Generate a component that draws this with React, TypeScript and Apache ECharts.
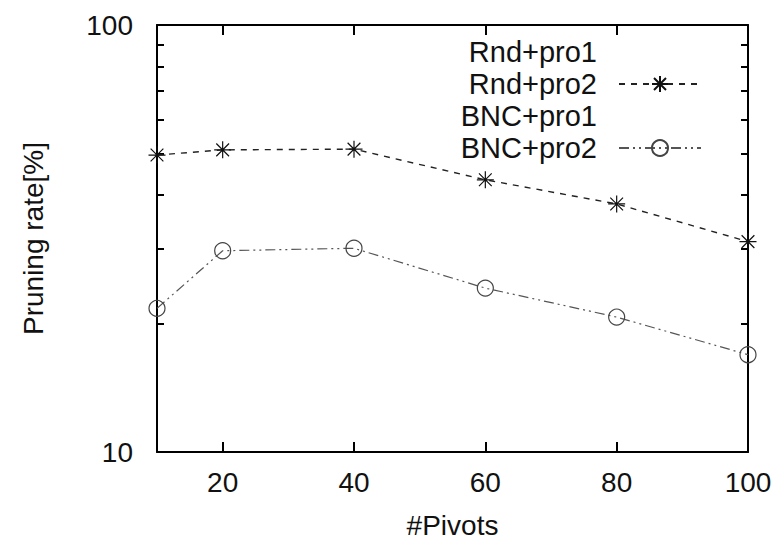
import React, { useEffect, useRef } from 'react';
import * as echarts from 'echarts';

const pivots = [10, 20, 40, 60, 80, 100];
const rndPro2 = [49.6, 51.0, 51.2, 43.4, 38.1, 31.1];
const bncPro2 = [21.7, 29.6, 30.0, 24.2, 20.7, 16.9];
const seriesNames = ['Rnd+pro1', 'Rnd+pro2', 'BNC+pro1', 'BNC+pro2'];
const hiddenInLegend = ['Rnd+pro1', 'BNC+pro1'];
const xTickLabels = [20, 40, 60, 80, 100];
const xTicks = [20, 40, 60, 80];
const yTickLabels = [10, 100];
const yMinorTicks = [20, 30, 40, 50, 60, 70, 80, 90];

const FONT = '"Liberation Sans", Arial, Helvetica, sans-serif';
const STAR = 'path://M0,-10L0,10M-10,0L10,0M-7.5,-7.5L7.5,7.5M-7.5,7.5L7.5,-7.5';

export default function App() {
  const ref = useRef<HTMLDivElement>(null);
  useEffect(() => {
    if (!ref.current) return;
    const chart = echarts.init(ref.current, null, { renderer: 'svg' });
    const axisLine = { show: true, onZero: false, lineStyle: { color: '#000', width: 2 } };
    const xBase = {
      type: 'value',
      min: 10,
      max: 100,
      axisLine,
      splitLine: { show: false },
    };
    const yBase = {
      type: 'log',
      logBase: 10,
      min: 10,
      max: 100,
      axisLine,
      splitLine: { show: false },
      minorTick: { show: false },
    };
    chart.setOption({
      animation: false,
      backgroundColor: '#fff',
      textStyle: { fontFamily: FONT },
      grid: { left: 157, right: 35, top: 25, bottom: 92, containLabel: false },
      legend: {
        data: seriesNames.map((n) =>
          hiddenInLegend.includes(n)
            ? { name: n, itemStyle: { opacity: 0 }, lineStyle: { opacity: 0 } }
            : { name: n }
        ),
        orient: 'vertical',
        right: 81,
        top: 37,
        padding: 0,
        align: 'right',
        itemWidth: 82,
        itemHeight: 20,
        itemGap: 2,
        selectedMode: false,
        textStyle: { fontSize: 29, fontFamily: FONT, color: '#111', padding: [0, 17, 0, 0], lineHeight: 30 },
      },
      xAxis: [
        {
          ...xBase,
          position: 'bottom',
          name: '#Pivots',
          nameLocation: 'middle',
          nameGap: 59,
          nameTextStyle: { fontSize: 28, color: '#111', fontFamily: FONT },
          axisTick: { show: true, inside: true, length: 10, customValues: xTicks, lineStyle: { color: '#000', width: 2 } },
          axisLabel: { show: true, customValues: xTickLabels, fontSize: 28, color: '#111', margin: 16, fontFamily: FONT },
        },
        {
          ...xBase,
          position: 'top',
          axisTick: { show: true, inside: true, length: 10, customValues: xTicks, lineStyle: { color: '#000', width: 2 } },
          axisLabel: { show: false },
        },
      ],
      yAxis: [
        {
          ...yBase,
          position: 'left',
          name: 'Pruning rate[%]',
          nameLocation: 'middle',
          nameGap: 110,
          nameTextStyle: { fontSize: 28, color: '#111', fontFamily: FONT },
          axisTick: { show: true, inside: true, length: 7, customValues: yMinorTicks, lineStyle: { color: '#000', width: 2 } },
          axisLabel: { show: true, customValues: yTickLabels, fontSize: 28, color: '#111', margin: 24, fontFamily: FONT },
        },
        {
          ...yBase,
          position: 'right',
          axisTick: { show: true, inside: true, length: 7, customValues: yMinorTicks, lineStyle: { color: '#000', width: 2 } },
          axisLabel: { show: false },
        },
      ],
      series: [
        {
          name: 'Rnd+pro1',
          type: 'line',
          data: [],
          symbol: 'none',
          itemStyle: { opacity: 0 },
          lineStyle: { opacity: 0 },
        },
        {
          name: 'Rnd+pro2',
          type: 'line',
          data: pivots.map((p, i) => [p, rndPro2[i]]),
          symbol: STAR,
          symbolSize: 17,
          showAllSymbol: true,
          itemStyle: { color: '#111', borderColor: '#111', borderWidth: 1.2 },
          lineStyle: { color: '#222', width: 1.4, type: [6, 6] },
          clip: false,
        },
        {
          name: 'BNC+pro1',
          type: 'line',
          data: [],
          symbol: 'none',
          itemStyle: { opacity: 0 },
          lineStyle: { opacity: 0 },
        },
        {
          name: 'BNC+pro2',
          type: 'line',
          data: pivots.map((p, i) => [p, bncPro2[i]]),
          symbol: 'circle',
          symbolSize: 16,
          showAllSymbol: true,
          itemStyle: { color: 'rgba(0,0,0,0)', borderColor: '#444', borderWidth: 1.2 },
          lineStyle: { color: '#555', width: 1.2, type: [10, 4, 2, 4, 2, 4] },
          clip: false,
        },
      ],
    });
    return () => chart.dispose();
  }, []);
  return <div ref={ref} style={{ position: 'fixed', left: 0, top: 0, width: 783, height: 544 }} />;
}
